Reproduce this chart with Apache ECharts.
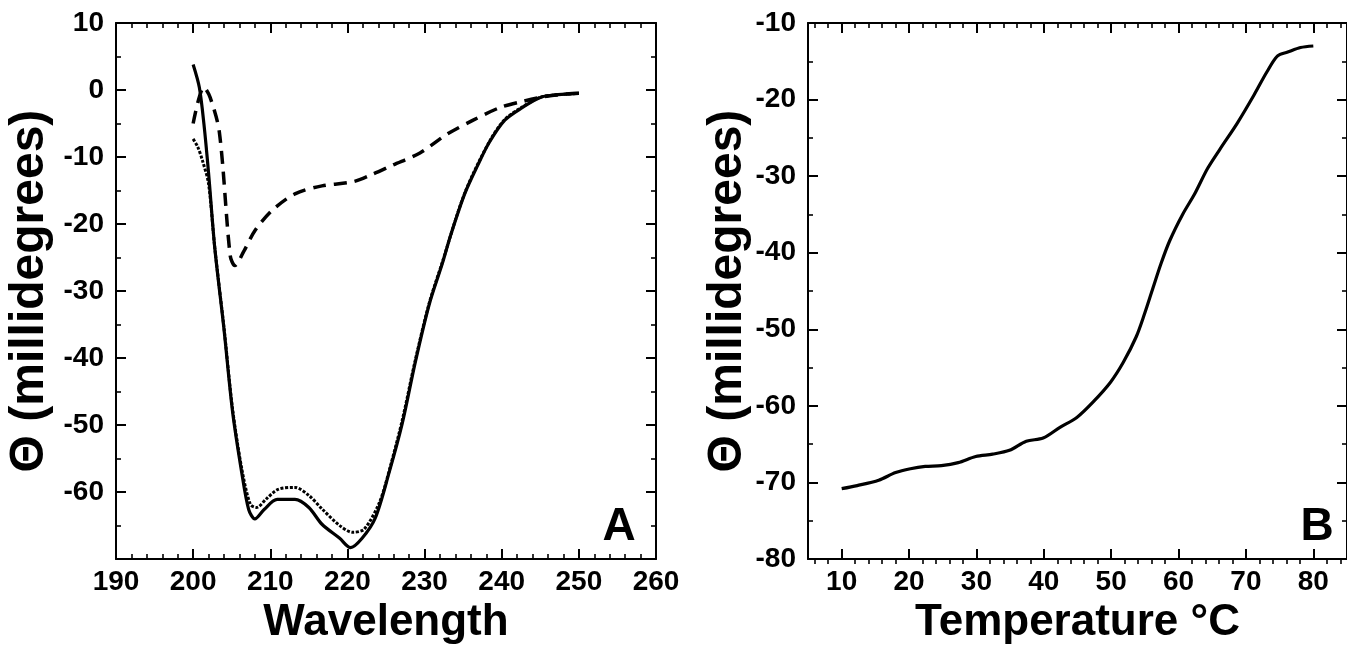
<!DOCTYPE html>
<html>
<head>
<meta charset="utf-8">
<script src="https://cdn.jsdelivr.net/npm/echarts@6/dist/echarts.min.js"></script>
<style>
  html, body { margin: 0; padding: 0; background: #fff; }
  #chart { width: 1347px; height: 650px; }
</style>
</head>
<body>
<div id="chart"></div>
<script>
// ---- Panel A: CD spectra ----
const wlSolid = [200, 200.8, 201.4, 202, 202.8, 204, 205.1, 206.3, 207.2, 208, 209.2, 210.9, 213.2, 215, 216.7, 219, 220.4, 221.9, 223.6, 225.4, 227.1, 228.8, 230.6, 232.3, 233.4, 235.2, 236.9, 238.4, 240.4, 242.7, 245, 247.3, 250];
const valSolid = [3.8, 0.4, -5.1, -12.4, -23.5, -35.7, -47.9, -57.1, -62.6, -64, -62.6, -61.1, -61.1, -62.3, -64.8, -66.9, -68.3, -66.9, -63.9, -57.1, -49.8, -40.6, -32, -25.9, -21.6, -15.5, -11.2, -7.8, -4.5, -2.6, -1.1, -0.7, -0.5];

const wlDot = [200, 200.6, 201.2, 202, 202.8, 204, 205.1, 206.3, 207.4, 208.2, 209.5, 211, 213.2, 215, 216.7, 219, 220.7, 222.2, 224.2, 225.6, 227.1, 228.8, 230.6, 232.3, 235.2, 238.4, 240.4, 242.7, 245, 247.3, 250];
const valDot = [-7.3, -8.5, -10.5, -14, -23.5, -35.5, -47.5, -56.5, -61.8, -62.3, -61, -59.6, -59.3, -60.5, -62.5, -65, -66, -65.5, -61.4, -56, -49.3, -40.3, -31.8, -25.7, -15.4, -7.7, -4.4, -2.5, -1.1, -0.7, -0.5];

const wlDash = [200, 201.4, 202.2, 203.4, 204.8, 205.4, 206.6, 208, 210.3, 213.2, 216.7, 220.7, 223, 225.9, 229.4, 232.9, 236.3, 239.8, 242.7, 245, 247.3, 250];
const valDash = [-5, 0.4, -1.1, -6.3, -24.7, -26.2, -24, -21, -17.9, -15.5, -14.3, -13.7, -12.7, -11.2, -9.4, -6.6, -4.5, -2.6, -1.7, -1.1, -0.7, -0.5];

// ---- Panel B: thermal melt ----
const temps = [10, 12.3, 15.5, 18, 20.2, 22.4, 24.8, 27.3, 29.9, 32.4, 34.9, 37.4, 39.9, 42.4, 44.9, 47.4, 49.9, 51.8, 53.7, 54.9, 56.2, 57.4, 58.7, 60.6, 62.4, 64.3, 66.2, 68.7, 71.2, 73.1, 74.7, 76.2, 78.1, 80];
const valTemp = [-70.8, -70.4, -69.7, -68.7, -68.2, -67.9, -67.8, -67.4, -66.6, -66.3, -65.8, -64.6, -64.2, -62.8, -61.5, -59.4, -56.9, -54.3, -51.0, -48.1, -44.6, -41.4, -38.4, -35, -32.3, -29, -26.4, -23.1, -19.4, -16.4, -14.3, -13.8, -13.2, -13];

// ---- tick labels ----
const tempMajorTicks = [10, 20, 30, 40, 50, 60, 70, 80];
const tempMinorTicks = [6, 8, 12, 14, 16, 18, 22, 24, 26, 28, 32, 34, 36, 38, 42, 44, 46, 48, 52, 54, 56, 58, 62, 64, 66, 68, 72, 74, 76, 78, 82, 84];
const panelLetters = ['A', 'B'];
const yTitle = 'Θ (millidegrees)';
const xTitles = ['Wavelength', 'Temperature °C'];

const FONT = "'Liberation Sans', Arial, Helvetica, sans-serif";
const BLACK = '#000';
const zip = (xs, ys) => xs.map((x, i) => [x, ys[i]]);

const axisLineOn = { show: true, onZero: false, lineStyle: { color: BLACK, width: 2 } };
const axisLineOff = { show: false, onZero: false };
const labelStyle = { color: BLACK, fontFamily: FONT, fontWeight: 'bold', fontSize: 28 };
const xNameStyle = { color: BLACK, fontFamily: FONT, fontWeight: 'bold', fontSize: 44 };
const yNameStyle = { color: BLACK, fontFamily: FONT, fontWeight: 'bold', fontSize: 48 };

function tick(extra) {
  return Object.assign({ show: true, inside: true, length: 10, lineStyle: { color: BLACK, width: 2 } }, extra || {});
}
function minorTick(n) {
  return { show: true, splitNumber: n, length: 5, lineStyle: { color: BLACK, width: 1.6 } };
}
const minorTickCustom = { show: true, inside: true, length: 5, customValues: tempMinorTicks, lineStyle: { color: BLACK, width: 1.6 } };

const chart = echarts.init(document.getElementById('chart'), null, { renderer: 'canvas' });

const gridB = { left: 808, top: 23, width: 545, height: 541, containLabel: false };

const option = {
  backgroundColor: '#fff',
  animation: false,
  grid: [
    { left: 116, top: 23, width: 540, height: 541, containLabel: false },
    gridB,
    Object.assign({}, gridB) // overlay grid for the minor ticks of panel B
  ],
  xAxis: [
    { gridIndex: 0, type: 'value', position: 'bottom', min: 190, max: 260, interval: 10,
      axisLine: axisLineOn, axisTick: tick(), minorTick: minorTick(5),
      axisLabel: Object.assign({ margin: 9 }, labelStyle), splitLine: { show: false },
      name: xTitles[0], nameLocation: 'middle', nameGap: 40, nameTextStyle: xNameStyle },
    { gridIndex: 0, type: 'value', position: 'top', min: 190, max: 260, interval: 10,
      axisLine: axisLineOn, axisTick: tick(), minorTick: minorTick(5),
      axisLabel: { show: false }, splitLine: { show: false } },
    { gridIndex: 1, type: 'value', position: 'bottom', min: 5, max: 85, interval: 5,
      axisLine: axisLineOn, axisTick: tick({ customValues: tempMajorTicks }),
      axisLabel: Object.assign({ margin: 9, customValues: tempMajorTicks }, labelStyle), splitLine: { show: false },
      name: xTitles[1], nameLocation: 'middle', nameGap: 40, nameTextStyle: xNameStyle },
    { gridIndex: 1, type: 'value', position: 'top', min: 5, max: 85, interval: 5,
      axisLine: axisLineOn, axisTick: tick({ customValues: tempMajorTicks }),
      axisLabel: { show: false }, splitLine: { show: false } },
    { gridIndex: 2, type: 'value', position: 'bottom', min: 5, max: 85, interval: 5,
      axisLine: axisLineOff, axisTick: minorTickCustom,
      axisLabel: { show: false }, splitLine: { show: false } },
    { gridIndex: 2, type: 'value', position: 'top', min: 5, max: 85, interval: 5,
      axisLine: axisLineOff, axisTick: minorTickCustom,
      axisLabel: { show: false }, splitLine: { show: false } }
  ],
  yAxis: [
    { gridIndex: 0, type: 'value', position: 'left', min: -70, max: 10, interval: 10,
      axisLine: axisLineOn, axisTick: tick(), minorTick: minorTick(2),
      axisLabel: Object.assign({ margin: 12, formatter: v => (v === -70 ? '' : String(v)) }, labelStyle),
      splitLine: { show: false },
      name: yTitle, nameLocation: 'middle', nameGap: 62, nameRotate: 90, nameTextStyle: yNameStyle },
    { gridIndex: 0, type: 'value', position: 'right', min: -70, max: 10, interval: 10,
      axisLine: axisLineOn, axisTick: tick(), minorTick: minorTick(2),
      axisLabel: { show: false }, splitLine: { show: false } },
    { gridIndex: 1, type: 'value', position: 'left', min: -80, max: -10, interval: 10,
      axisLine: axisLineOn, axisTick: tick(), minorTick: minorTick(2),
      axisLabel: Object.assign({ margin: 12 }, labelStyle), splitLine: { show: false },
      name: yTitle, nameLocation: 'middle', nameGap: 52, nameRotate: 90, nameTextStyle: yNameStyle },
    { gridIndex: 1, type: 'value', position: 'right', min: -80, max: -10, interval: 10,
      axisLine: axisLineOn, axisTick: tick(), minorTick: minorTick(2),
      axisLabel: { show: false }, splitLine: { show: false } },
    { gridIndex: 2, type: 'value', min: -80, max: -10, show: false }
  ],
  graphic: [
    { type: 'text', x: 619, y: 527, z: 100,
      style: { text: panelLetters[0], fill: BLACK, font: "bold 46px " + FONT, textAlign: 'center', textVerticalAlign: 'middle' } },
    { type: 'text', x: 1317, y: 527, z: 100,
      style: { text: panelLetters[1], fill: BLACK, font: "bold 46px " + FONT, textAlign: 'center', textVerticalAlign: 'middle' } }
  ],
  series: [
    { type: 'line', xAxisIndex: 0, yAxisIndex: 0, data: zip(wlDash, valDash), showSymbol: false, smooth: 0.3,
      lineStyle: { color: BLACK, width: 3.5, type: [13, 8] } },
    { type: 'line', xAxisIndex: 0, yAxisIndex: 0, data: zip(wlDot, valDot), showSymbol: false, smooth: 0.3,
      lineStyle: { color: BLACK, width: 3, type: [3, 1.6] } },
    { type: 'line', xAxisIndex: 0, yAxisIndex: 0, data: zip(wlSolid, valSolid), showSymbol: false, smooth: 0.3,
      lineStyle: { color: BLACK, width: 3.2 } },
    { type: 'line', xAxisIndex: 2, yAxisIndex: 2, data: zip(temps, valTemp), showSymbol: false, smooth: 0.3,
      lineStyle: { color: BLACK, width: 3.2 } }
  ]
};

chart.setOption(option);
</script>
</body>
</html>
